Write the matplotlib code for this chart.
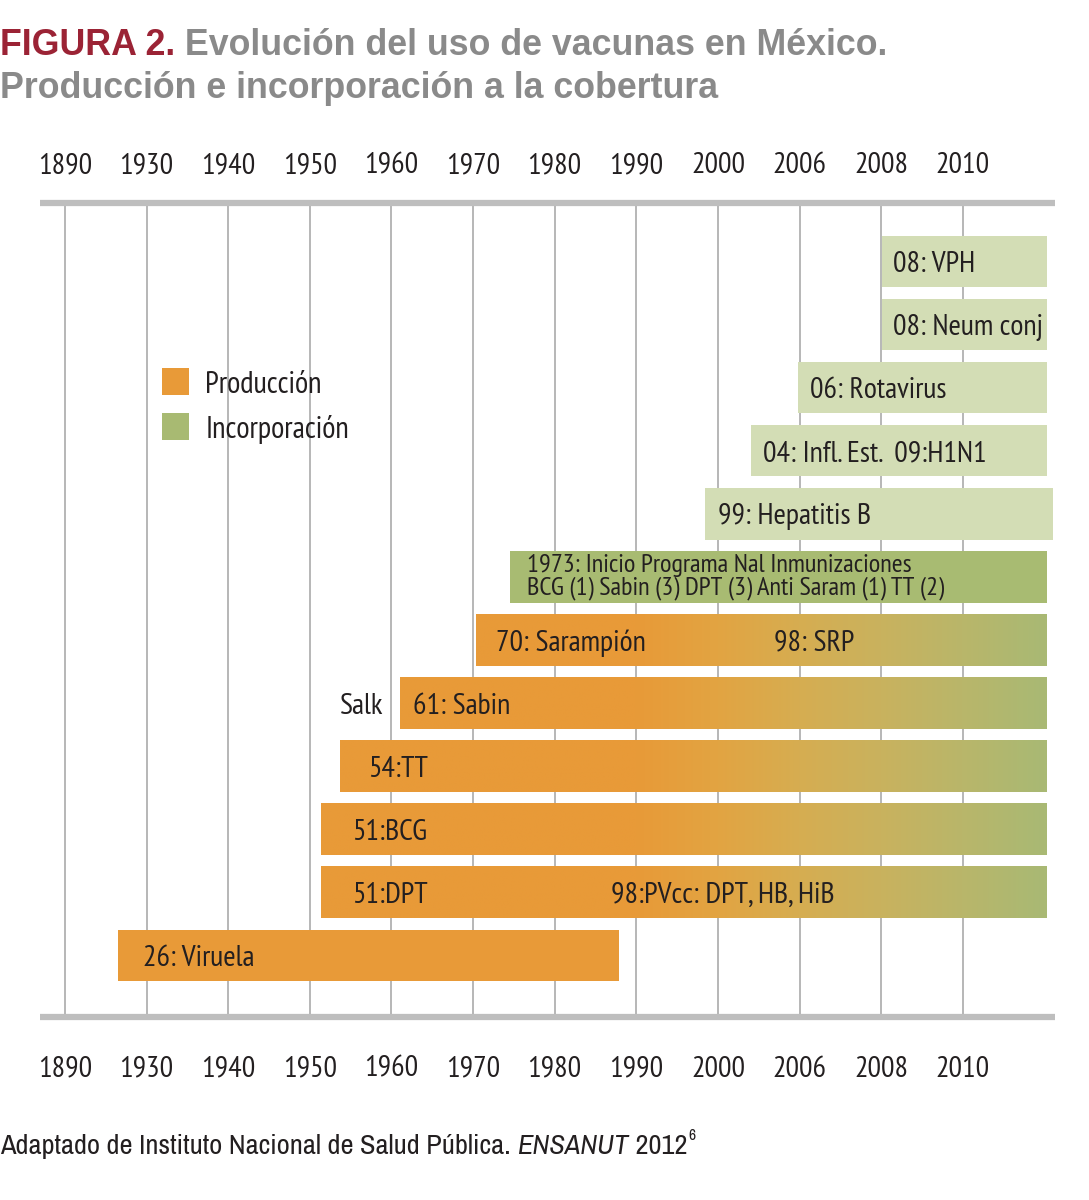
import numpy as np
import matplotlib
matplotlib.use("Agg")
import matplotlib.pyplot as plt
from matplotlib import font_manager as fm
from matplotlib.colors import to_rgb
from matplotlib.patches import Rectangle

# ---------------- data ----------------
tick_labels = ["1890", "1930", "1940", "1950", "1960", "1970", "1980",
               "1990", "2000", "2006", "2008", "2010"]

# rows from bottom (0) to top (11); x in ordinal tick units (tick i at i)
bar_labels = [
    "26: Viruela",
    "51:DPT",
    "51:BCG",
    "54:TT",
    "61: Sabin",
    "70: Sarampión",
    "1973: Inicio Programa Nal Inmunizaciones\nBCG (1) Sabin (3) DPT (3) Anti Saram (1) TT (2)",
    "99: Hepatitis B",
    "04: Infl. Est.  09:H1N1",
    "06: Rotavirus",
    "08: Neum conj",
    "08: VPH",
]
bar_start = [0.65, 3.14, 3.14, 3.37, 4.11, 5.04, 5.45, 7.84, 8.41, 8.98, 10.01, 10.01]
bar_end = [6.79, 12.03, 12.03, 12.03, 12.03, 12.03, 12.03, 12.11, 12.03, 12.03, 12.03, 12.03]
bar_kind = ["prod", "grad", "grad", "grad", "grad", "grad",
            "inc_dark", "inc", "inc", "inc", "inc", "inc"]

extra_rows = [1, 5, 4]
extra_texts = ["98:PVcc: DPT, HB, HiB", "98: SRP", "Salk"]

legend_labels = ["Producción", "Incorporación"]

# ---------------- styling / layout ----------------
ORANGE = "#E89A38"
GREEN = "#A8BA72"
LIGHT_GREEN = "#D3DDB5"
DARK_GREEN = "#A8BB72"
GRID = "#A3A3A3"
BAND = "#BEBEBE"
TEXT = "#231F20"
RED = "#9B2335"
GRAY = "#8A8A8A"

grad_stop_x = [7.0, 8.0, 9.0, 10.0, 11.0, 12.0]
grad_stop_c = np.array([to_rgb(c) for c in
                        ["#E89A38", "#E2A442", "#D6AD51", "#C9B25E", "#B9B66A", "#A9B974"]])

label_x = [0.96, 3.52, 3.52, 3.71, 4.26, 5.28, 5.66, 8.0, 8.55, 9.13, 10.15, 10.15]
extra_x = [6.69, 8.69, 3.90]
extra_ha = ["left", "left", "right"]

names = {f.name for f in fm.fontManager.ttflist}


def pick(cands):
    for c in cands:
        if c in names:
            return c
    return "DejaVu Sans"


COND = pick(["PT Sans Narrow", "Fira Sans Condensed", "Asap Condensed", "Cabin Condensed",
             "Barlow Semi Condensed", "DejaVu Sans"])
FOOT = pick(["Archivo Narrow", "Liberation Sans Narrow", "Roboto Condensed", "Asap Condensed",
             "DejaVu Sans"])
BOLD = pick(["Liberation Sans", "DejaVu Sans"])

fig = plt.figure(figsize=(10.89, 12), dpi=100)
W, H = 1089, 1200
renderer = fig.canvas.get_renderer()


def width_px(text, family, size, style="normal", weight="normal"):
    fp = fm.FontProperties(family=family, size=size, style=style, weight=weight)
    w, h, d = renderer.get_text_width_height_descent(text, fp, ismath=False)
    return w


def fit(text, family, target, base=20.0, style="normal", weight="normal"):
    return base * target / width_px(text, family, base, style=style, weight=weight)


# font sizes fitted to the widths measured on the reference
FS_BAR = min(22.0, 0.5 * (fit("08: Neum conj", COND, 143) + fit("99: Hepatitis B", COND, 161)))
FS_TICK = min(24.0, fit("1890", COND, 54))
FS_LEG = min(22.0, fit("Incorporación", COND, 149))
FS_1973 = min(19.0, fit("BCG (1) Sabin (3) DPT (3) Anti Saram (1) TT (2)", COND, 446))
FS_FOOT = min(22.0, fit("Adaptado de Instituto Nacional de Salud Pública. ENSANUT 2012", FOOT, 686))
FS_TITLE = min(27.0, fit("FIGURA 2. Evolución del uso de vacunas en México.", BOLD, 890,
                         weight="bold"))

ax_left, ax_right = 40, 1055
ax_top, ax_bot = 203, 1017
ax = fig.add_axes([ax_left / W, 1 - ax_bot / H, (ax_right - ax_left) / W, (ax_bot - ax_top) / H])

x_lo, x_hi = -0.306, 12.13
y_lo, y_hi = -0.975, 11.93
bar_h = 0.81

# gridlines
for i in range(len(tick_labels)):
    ax.plot([i, i], [y_lo, y_hi], color=GRID, lw=1.1, zorder=1)

# bars
for r, (s, e, k) in enumerate(zip(bar_start, bar_end, bar_kind)):
    if k == "grad":
        xs = np.linspace(s, e, 400)
        cols = np.stack([np.interp(xs, grad_stop_x, grad_stop_c[:, j]) for j in range(3)], axis=-1)
        ax.imshow(cols[None, :, :], extent=[s, e, r - bar_h / 2, r + bar_h / 2],
                  aspect="auto", interpolation="bilinear", zorder=2)
    else:
        color = {"prod": ORANGE, "inc": LIGHT_GREEN, "inc_dark": DARK_GREEN}[k]
        ax.barh(r, e - s, left=s, height=bar_h, color=color, zorder=2, linewidth=0)

# bar labels
for r, (lab, lx) in enumerate(zip(bar_labels, label_x)):
    if "\n" in lab:
        ax.text(lx, r + 0.0, lab, fontsize=FS_1973, family=COND, color=TEXT,
                ha="left", va="center", linespacing=1.0, zorder=3)
    else:
        ax.text(lx, r, lab, fontsize=FS_BAR, family=COND, color=TEXT,
                ha="left", va="center_baseline", zorder=3)

for r, t, x, ha in zip(extra_rows, extra_texts, extra_x, extra_ha):
    ax.text(x, r, t, fontsize=FS_BAR, family=COND, color=TEXT,
            ha=ha, va="center_baseline", zorder=3)

# legend (manual)
leg_colors = [ORANGE, GREEN]
leg_y = [9.10, 8.38]
for lab, c, yy in zip(legend_labels, leg_colors, leg_y):
    ax.add_patch(Rectangle((1.19, yy - 0.215), 0.33, 0.43, color=c, lw=0, zorder=3))
    ax.text(1.72, yy, lab, fontsize=FS_LEG, family=COND, color=TEXT,
            ha="left", va="center_baseline", zorder=3)

# bands
for yy in (y_lo, y_hi):
    ax.plot([x_lo, x_hi], [yy, yy], color=BAND, lw=4.5, solid_capstyle="butt",
            clip_on=False, zorder=4)

ax.set_xlim(x_lo, x_hi)
ax.set_ylim(y_lo, y_hi)
ax.set_xticks(range(len(tick_labels)))
ax.set_xticklabels(tick_labels, family=COND, fontsize=FS_TICK, color=TEXT)
ax.set_yticks([])
ax.tick_params(axis="x", length=0, top=False, labeltop=False, bottom=True,
               labelbottom=True, pad=28)
for sp in ax.spines.values():
    sp.set_visible(False)

# top tick labels
for i, lab in enumerate(tick_labels):
    ax.text(i, 1 + 30 / (ax_bot - ax_top), lab, transform=ax.get_xaxis_transform(),
            family=COND, fontsize=FS_TICK, color=TEXT, ha="center", va="baseline")


def put_pieces(x0, ybase, pieces):
    x = x0
    for txt, kw in pieces:
        t = fig.text(x / W, 1 - ybase / H, txt, va="baseline", ha="left", **kw)
        bb = t.get_window_extent(renderer=renderer)
        x = bb.x1
    return x


# title
put_pieces(0, 55, [("FIGURA 2.", dict(family=BOLD, fontsize=FS_TITLE, weight="bold", color=RED)),
                   (" Evolución del uso de vacunas en México.",
                    dict(family=BOLD, fontsize=FS_TITLE, weight="bold", color=GRAY))])
fig.text(0, 1 - 98 / H, "Producción e incorporación a la cobertura", family=BOLD,
         fontsize=FS_TITLE, weight="bold", color=GRAY, va="baseline", ha="left")

# footer
xend = put_pieces(0, 1154, [("Adaptado de Instituto Nacional de Salud Pública. ",
                             dict(family=FOOT, fontsize=FS_FOOT, color=TEXT)),
                            ("ENSANUT", dict(family=FOOT, fontsize=FS_FOOT, style="italic", color=TEXT)),
                            (" 2012", dict(family=FOOT, fontsize=FS_FOOT, color=TEXT))])
fig.text(xend / W + 0.001, 1 - 1140 / H, "6", family=FOOT, fontsize=FS_FOOT * 0.55, color=TEXT,
         va="baseline", ha="left")

fig.savefig("out.png", dpi=100, facecolor="white")
